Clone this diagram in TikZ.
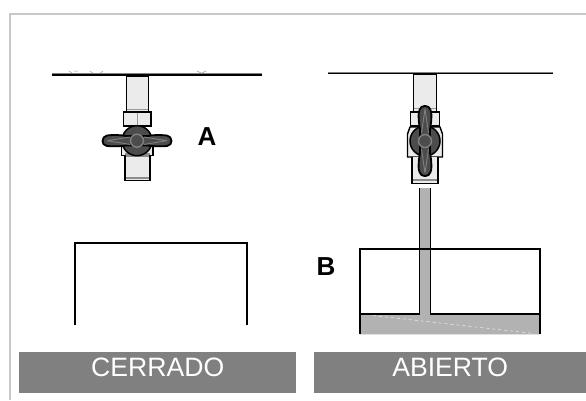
\documentclass[tikz,border=0pt]{standalone}
\usepackage{fontspec}
\setmainfont{Liberation Sans}
\definecolor{pipefill}{gray}{0.92}
\definecolor{handlefill}{gray}{0.30}
\definecolor{handleline}{gray}{0.50}
\definecolor{waterfill}{gray}{0.70}
\definecolor{bandfill}{gray}{0.50}
\definecolor{framegray}{gray}{0.78}
\tikzset{
  wall/.style={line width=1.6pt,black},
  wall edge/.style={line width=1pt,black!50},
  scratch/.style={line width=0.5pt,black!40},
  part/.style={draw=black,line width=1.4pt,fill=pipefill},
  thin part/.style={draw=black!40,line width=0.8pt},
  grip/.style={draw=black,line width=1.8pt,fill=handlefill,line join=round},
  rib/.style={draw=handleline,line width=0.9pt},
  tank/.style={draw=black,line width=1.3pt},
  water/.style={fill=waterfill,draw=none},
  band/.style={fill=bandfill,draw=none,text=white,font=\fontsize{26.6}{28}\selectfont,inner sep=0pt},
  letter/.style={font=\bfseries\fontsize{26}{28}\selectfont,inner sep=0pt}
}
\begin{document}
\begin{tikzpicture}[x=1pt,y=-1pt]
\useasboundingbox (0,0) rectangle (586,400);
\fill[white] (0,0) rectangle (586,400);
% outer frame
\draw[framegray,line width=2pt] (10,400) -- (10,14) -- (586,14);

% closed valve: ceiling with its fine marks
\draw[scratch] (69,71) -- (72,73) (74,71) -- (78,71) (90,71) -- (94,74) (103,71) -- (99,74)
  (197,71) -- (201,73) (206,71) -- (202,73);
\draw[wall edge] (52,73.6) -- (262,73.6);
\draw[wall] (52,75) -- (262,75);
% closed valve: pipe, threaded collar and lower nipple
\draw[part] (126.5,76) rectangle (148.5,112);
\draw[thin part] (127,109.5) -- (148,109.5);
\draw[part] (123.5,112) rectangle (151,126);
\draw[thin part] (137.5,113) -- (137.5,125);
\draw[part] (121.5,146) rectangle (153,155.5);
\fill[pipefill] (125,155) rectangle (150,180);
\fill[black!45] (125,153) rectangle (150,156.5);
\fill[black!45] (125,177) rectangle (150,179);
\draw[black,line width=1.5pt] (125,155) -- (125,180.5) -- (150,180.5) -- (150,155);
% closed valve: body and butterfly handle
\fill[handlefill,draw=black,line width=1.5pt] (137,140.7) circle (15);
\draw[grip] (126,136) .. controls (118,134.5) and (110,135) .. (107,135.5)
  .. controls (101,136.5) and (101,145.5) .. (107,146)
  .. controls (112,146.5) and (120,146.5) .. (126,145.5)
  -- (148,145.5) .. controls (154,146.5) and (162,146.5) .. (167,146)
  .. controls (173,145.5) and (173,136.5) .. (167,135.5)
  .. controls (162,135) and (154,134.5) .. (148,136) -- cycle;
\draw[rib] (107,140.7) -- (130,137) (107,140.7) -- (130,144.4)
  (167,140.7) -- (144,137) (167,140.7) -- (144,144.4);
\fill[handlefill,draw=handleline,line width=1.4pt] (137,140.7) circle (6.5);
\node[letter] (labelA) at (207,136.5) {A};

% closed tank
\draw[tank] (75,325) -- (75,243) -- (247,243) -- (247,325);

% open valve: ceiling
\draw[wall edge] (328,72) -- (553,72);
\draw[wall] (328,73.3) -- (553,73.3);
% open valve: pipe, collar, body casing and lower nipple
\draw[part] (413.5,74) rectangle (436.5,112);
\draw[thin part] (414,108.5) -- (436,108.5);
\draw[part] (410.5,112) rectangle (439.5,126);
\draw[part] (410,127) -- (407.5,134) -- (407.5,157) -- (442.5,157) -- (442.5,134) -- (440,127) -- cycle;
\draw[part] (412,157) -- (412,183.5) -- (438,183.5) -- (438,157);
\fill[black!45] (413,179) rectangle (437,181);
% open valve: body and butterfly handle
\fill[handlefill,draw=black,line width=1.5pt] (425,141) circle (15);
\draw[grip] (420,129) .. controls (418.5,122) and (418,112) .. (419.5,110)
  .. controls (420.5,104.5) and (429.5,104.5) .. (430.5,110)
  .. controls (432,112) and (431.5,122) .. (430,129)
  -- (430,153) .. controls (431.5,160) and (432,170) .. (430.5,172)
  .. controls (429.5,177.5) and (420.5,177.5) .. (419.5,172)
  .. controls (418,170) and (418.5,160) .. (420,153) -- cycle;
\draw[rib] (425,109) -- (421.5,133) (425,109) -- (428.5,133)
  (425,173) -- (421.5,149) (425,173) -- (428.5,149);
\fill[handlefill,draw=handleline,line width=1.4pt] (425,141) circle (6.5);

% open tank with water and falling stream
\fill[water] (360,314) rectangle (540,334);
\fill[water] (420,188) rectangle (430,316);
\draw[tank] (360,334) -- (360,249) -- (540,249) -- (540,334);
\fill[water] (420.6,250) rectangle (429.4,254);
\draw[tank] (360,314) -- (419.7,314) -- (419.7,188);
\draw[tank] (540,314) -- (430.3,314) -- (430.3,188);
\draw[white!70!waterfill,line width=0.6pt,dashed] (373,315.5) -- (534,333.5);
\draw[white!60!waterfill,line width=0.7pt] (360,334.3) -- (540,334.3);
\node[letter] (labelB) at (326,267) {B};

% caption bands
\node[band,minimum width=277pt,minimum height=41pt,anchor=north west] (closedband) at (19,352) {\raisebox{11pt}{CERRADO}};
\node[band,minimum width=272pt,minimum height=41pt,anchor=north west] (openband) at (314,352) {\raisebox{11pt}{ABIERTO}};
\end{tikzpicture}
\end{document}
